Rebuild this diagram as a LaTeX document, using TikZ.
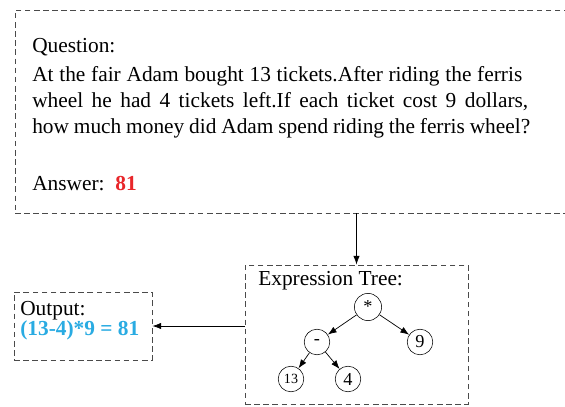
\documentclass[tikz,border=0pt]{standalone}
\usepackage{fontspec}
\setmainfont{Liberation Serif}
\usetikzlibrary{arrows.meta}
\definecolor{ansred}{HTML}{E8262A}
\definecolor{outblue}{HTML}{29ABE2}
\definecolor{dashgray}{HTML}{4A4A4A}
\tikzset{
box/.style={draw=dashgray, dash pattern=on 4pt off 2.5pt, line width=0.6pt, inner sep=0pt},
leaf/.style={circle, draw=black, fill=white, minimum size=0.64cm, inner sep=0pt, font=\fontsize{13}{13}\selectfont},
edge/.style={-{Latex[length=2.2mm,width=1.6mm]}, line width=0.5pt},
txt/.style={font=\fontsize{15.2}{18}\selectfont, inner sep=0pt, anchor=west}
}
\begin{document}
\begin{tikzpicture}
\useasboundingbox (0,0) rectangle (14.125,10.15);
\node[box, minimum width=13.875cm, minimum height=5.075cm] (top) at (7.3125,7.3625) {};
\node[box, minimum width=5.575cm, minimum height=3.475cm] (tree) at (8.9125,1.7875) {};
\node[box, minimum width=3.45cm, minimum height=1.7cm] (out) at (2.075,2.0) {};
\node[txt] (q) at (0.8,8.975) {Question:};
\node[txt] (line1) at (0.8,8.25) {\makebox[12.25cm][s]{At the fair Adam bought 13 tickets.After riding the ferris}};
\node[txt] (line2) at (0.8,7.6) {\makebox[12.4cm][s]{wheel he had 4 tickets left.If each ticket cost 9 dollars,}};
\node[txt] (line3) at (0.8,6.95) {\makebox[12.45cm][s]{how much money did Adam spend riding the ferris wheel?}};
\node[txt] (ans) at (0.8,5.55) {Answer:\ \ \textcolor{ansred}{\textbf{81}}};
\node[txt] (treelbl) at (6.45,3.125) {Expression Tree:};
\node[txt] (outlbl) at (0.5,2.375) {Output:};
\node[txt, text=outblue, font=\fontsize{15.2}{18}\selectfont\bfseries] (res) at (0.5,1.88) {(13-4)*9 = 81};
% tree
\node[leaf, minimum size=0.68cm] (mul) at (9.2,2.475) {*};
\node[leaf] (sub) at (7.925,1.6) {-};
\node[leaf] (nine) at (10.5,1.6) {9};
\node[leaf, font=\fontsize{10}{10}\selectfont] (thirteen) at (7.275,0.675) {13};
\node[leaf] (four) at (8.7,0.675) {4};
\draw[edge] (mul) -- (sub);
\draw[edge] (mul) -- (nine);
\draw[edge] (sub) -- (thirteen);
\draw[edge] (sub) -- (four);
% connectors
\draw[edge] (top.south -| tree.north) -- (tree.north);
\draw[edge] (tree.west |- out.east) -- (out.east);
\end{tikzpicture}
\end{document}
